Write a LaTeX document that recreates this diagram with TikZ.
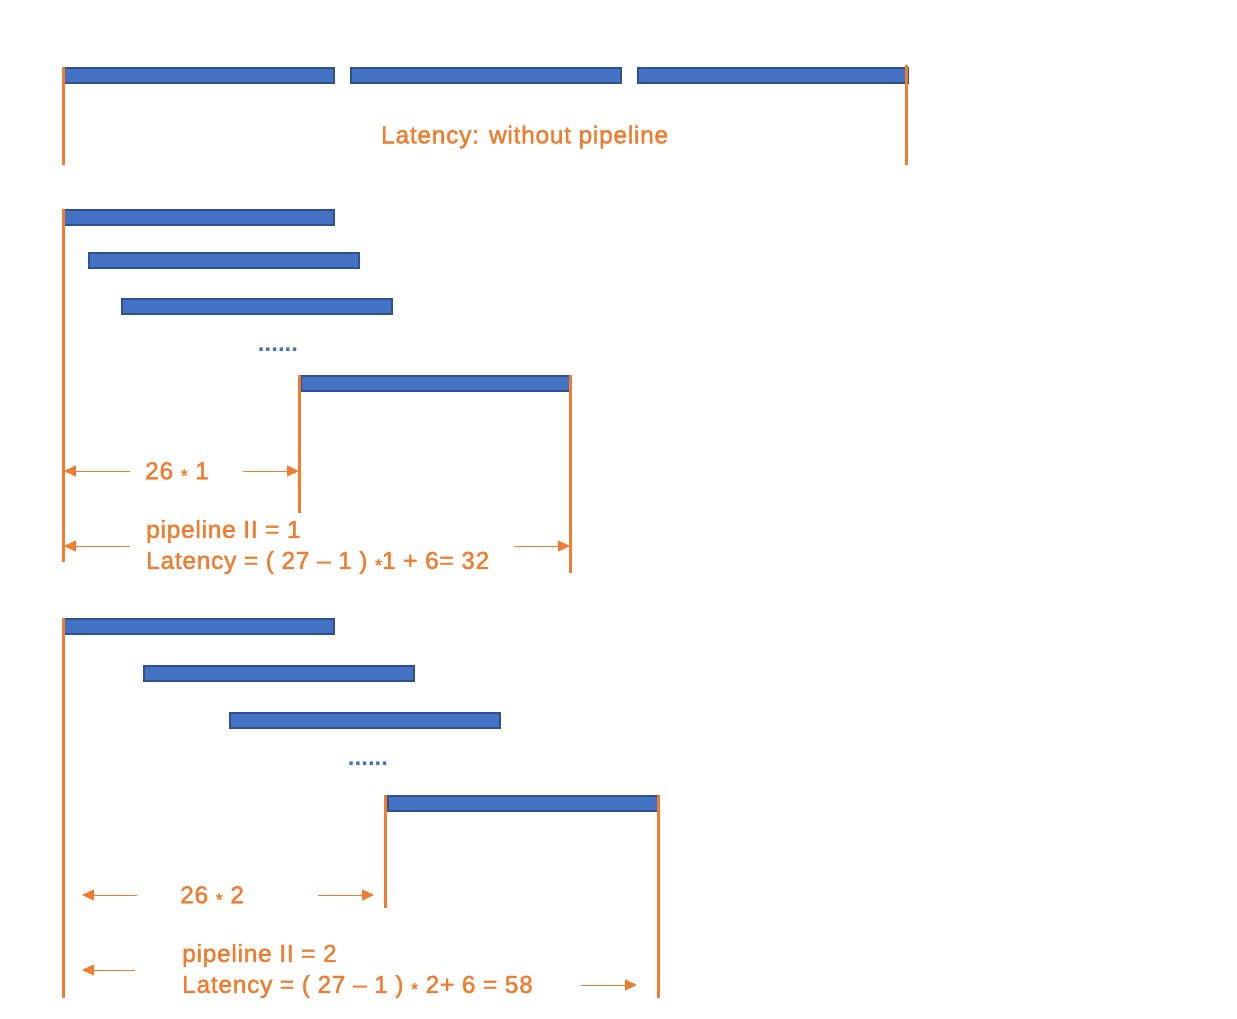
\documentclass[tikz,border=0pt]{standalone}
\usepackage{fontspec}
\setmainfont{Liberation Sans}
\newfontfamily\lblfont{Liberation Sans}[FakeBold=1.6, LetterSpace=3]
\usetikzlibrary{arrows.meta}
\definecolor{barfill}{HTML}{4472C4}
\definecolor{bardraw}{HTML}{2F528F}
\definecolor{org}{HTML}{ED7D31}
\tikzset{
  bar/.style={draw=bardraw, fill=barfill, line width=1.8pt, minimum width=270pt, minimum height=15pt, inner sep=0pt, anchor=north west},
  oline/.style={draw=org, line width=3pt},
  arr/.style={draw=org, line width=1pt, -{Triangle[length=12pt,width=11pt]}},
  lbl/.style={text=org, font=\lblfont\fontsize{24.5}{31}\selectfont, anchor=west, inner sep=0pt, align=left},
  dots/.style={text=barfill, font=\fontsize{24}{26}\selectfont\bfseries, inner sep=0pt, anchor=base}
}
\newcommand{\mystar}{\raisebox{-0.2ex}{\fontsize{18}{20}\selectfont *}}
\begin{document}
\begin{tikzpicture}[x=1pt,y=-1pt]
\useasboundingbox[fill=white] (0,0) rectangle (1237,1018);
% ---- section 1
\node[bar] (a1) at (63,67) {};
\node[bar] (a2) at (350,67) {};
\node[bar] (a3) at (637,67) {};
\coordinate (a1b) at (63,165);
\coordinate (a3t) at (906,65);
\coordinate (a3b) at (906,165);
\draw[oline] (a1.north west) -- (a1b);
\draw[oline] (a3t) -- (a3b);
\node[lbl] (t1) at (381,137) {Latency: without pipeline};
% ---- section 2
\node[bar] (b1) at (63,209) {};
\node[bar] (b2) at (88,252) {};
\node[bar] (b3) at (121,298) {};
\node[dots] (bd) at (278,351) {......};
\node[bar] (b4) at (300,375) {};
\coordinate (b1b) at (63,562);
\coordinate (b4m) at (299,375);
\coordinate (b4mb) at (299,513);
\coordinate (b4r) at (570,375);
\coordinate (b4rb) at (570,573);
\draw[oline] (b1.north west) -- (b1b);
\draw[oline] (b4m) -- (b4mb);
\draw[oline] (b4r) -- (b4rb);
\node[lbl] (t2) at (145,472) {26 \mystar\ 1};
\node[lbl] (t3) at (146,547) {pipeline II = 1\\Latency = ( 27 – 1 ) \mystar1 + 6= 32};
\coordinate (p1a) at (130,471); \coordinate (p1b) at (64,471);
\coordinate (p2a) at (243,471); \coordinate (p2b) at (299,471);
\coordinate (p3a) at (130,546); \coordinate (p3b) at (64,546);
\coordinate (p4a) at (514,546); \coordinate (p4b) at (570,546);
\draw[arr] (p1a) -- (p1b);
\draw[arr] (p2a) -- (p2b);
\draw[arr] (p3a) -- (p3b);
\draw[arr] (p4a) -- (p4b);
% ---- section 3
\node[bar] (c1) at (63,618) {};
\node[bar] (c2) at (143,665) {};
\node[bar] (c3) at (229,712) {};
\node[dots] (cd) at (368,765) {......};
\node[bar] (c4) at (387,795) {};
\coordinate (c1b) at (63,998);
\coordinate (c4m) at (385,795);
\coordinate (c4mb) at (385,908);
\coordinate (c4r) at (658,795);
\coordinate (c4rb) at (658,998);
\draw[oline] (c1.north west) -- (c1b);
\draw[oline] (c4m) -- (c4mb);
\draw[oline] (c4r) -- (c4rb);
\node[lbl] (t4) at (180,896) {26 \mystar\ 2};
\node[lbl] (t5) at (182,971) {pipeline II = 2\\Latency = ( 27 – 1 ) \mystar\ 2+ 6 = 58};
\coordinate (q1a) at (137,895); \coordinate (q1b) at (82,895);
\coordinate (q2a) at (318,895); \coordinate (q2b) at (374,895);
\coordinate (q3a) at (135,970); \coordinate (q3b) at (82,970);
\coordinate (q4a) at (581,985); \coordinate (q4b) at (637,985);
\draw[arr] (q1a) -- (q1b);
\draw[arr] (q2a) -- (q2b);
\draw[arr] (q3a) -- (q3b);
\draw[arr] (q4a) -- (q4b);
\end{tikzpicture}
\end{document}
